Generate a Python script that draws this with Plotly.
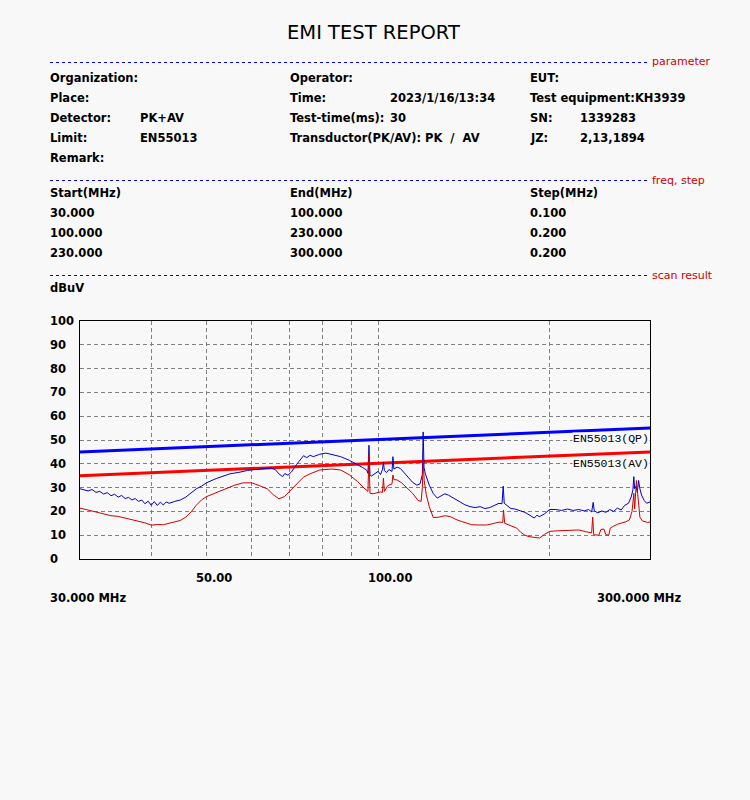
import math
import plotly.graph_objects as go

# ---------------- data ----------------
pk_freq = [30.0, 30.5, 31.0, 31.5, 32.0, 32.5, 33.0, 33.5, 34.0, 34.5, 35.0, 35.5, 36.0, 36.5,
           37.0, 37.5, 38.0, 38.5, 39.0, 39.5, 40.0, 40.5, 41.0, 41.5, 42.0, 42.5, 43.0, 44.0,
           45.0, 46.0, 47.0, 48.0, 49.0, 50.0, 52.0, 55.0, 57.0, 59.0, 61.0, 63.0, 65.0, 66.0,
           67.0, 68.0, 68.6, 69.5, 70.5, 72.0, 73.0, 74.0, 75.0, 76.0, 77.0, 79.0, 81.0, 83.0,
           86.0, 89.0, 92.0, 94.0, 95.5, 96.0, 96.4, 96.8, 97.3, 98.5, 100.0, 101.0, 101.8, 102.2,
           102.6, 103.5, 104.5, 105.8, 106.2, 106.6, 108.0, 109.5, 111.0, 113.0, 115.0, 117.0,
           118.5, 119.6, 120.0, 120.4, 121.0, 123.0, 125.0, 127.0, 129.0, 131.0, 133.0, 136.0,
           139.0, 142.0, 145.0, 148.0, 151.0, 154.0, 157.0, 160.0, 163.0, 165.0, 165.8, 166.5,
           168.0, 171.0, 174.0, 177.0, 181.0, 184.0, 186.0, 188.0, 190.0, 192.0, 196.0, 200.0,
           205.0, 210.0, 215.0, 220.0, 225.0, 230.0, 234.0, 237.0, 238.5, 239.5, 243.0, 247.0,
           251.0, 255.0, 259.0, 263.0, 267.0, 271.0, 275.0, 278.0, 280.0, 281.0, 282.0, 283.5,
           285.0, 286.5, 288.0, 290.0, 293.0, 296.0, 300.0]
pk_level = [29.5, 29.0, 28.6, 29.2, 28.0, 28.4, 27.3, 27.9, 26.6, 27.2, 26.0, 26.7, 25.4, 25.9,
            24.8, 25.4, 24.2, 24.8, 23.2, 24.3, 22.6, 24.1, 22.5, 23.9, 22.7, 24.0, 23.4, 24.2,
            24.8, 26.0, 27.6, 29.5, 30.6, 32.0, 33.8, 35.8, 36.4, 37.2, 37.6, 38.0, 38.2, 37.6,
            35.8, 34.6, 35.9, 35.2, 36.6, 39.8, 41.6, 43.4, 42.6, 43.6, 43.0, 44.0, 44.5, 43.8,
            43.0, 41.5, 39.8, 38.4, 37.4, 36.0, 47.8, 35.5, 34.8, 35.6, 36.8, 35.5, 37.6, 40.6,
            37.2, 36.3, 37.6, 36.8, 43.0, 37.8, 38.6, 38.0, 36.3, 34.5, 32.2, 31.0,
            31.6, 35.5, 53.4, 38.5, 36.0, 31.0, 27.5, 25.6, 26.4, 27.4, 26.8, 25.4,
            24.2, 22.8, 22.0, 21.6, 22.0, 21.2, 21.6, 22.4, 23.4, 23.2, 30.6, 23.4,
            22.6, 21.2, 21.0, 20.4, 19.6, 18.6, 18.0, 17.2, 18.4, 17.8, 19.0, 20.8,
            20.8, 20.4, 21.0, 20.4, 20.8, 20.2, 20.8, 19.8, 23.8, 20.2, 19.4, 20.2,
            19.6, 20.8, 20.0, 21.4, 20.6, 22.6, 23.4, 26.0, 29.0, 34.6, 29.5, 30.6,
            28.0, 33.0, 29.5, 26.8, 24.6, 23.4, 24.0]

av_freq = [30.0, 31.0, 32.0, 33.0, 34.0, 35.0, 36.0, 37.0, 38.0, 39.0, 40.0, 41.0, 42.0, 43.0,
           44.0, 45.0, 46.0, 47.0, 48.0, 49.0, 50.0, 52.0, 54.0, 56.0, 58.0, 60.0, 62.0, 64.0,
           65.5, 67.0, 68.5, 70.0, 72.0, 74.0, 76.0, 79.0, 83.0, 86.0, 89.0, 92.0, 94.5, 96.0,
           96.4, 96.8, 98.0, 101.0, 101.8, 102.2, 102.6, 104.0, 105.8, 106.2, 106.6, 108.0,
           110.0, 112.0, 115.0, 117.5, 119.0, 119.6, 120.0, 120.5, 121.5, 123.0, 125.0, 128.0,
           131.0, 134.0, 137.0, 140.0, 143.0, 146.0, 150.0, 155.0, 160.0, 163.0, 165.5, 166.0,
           166.8, 170.0, 175.0, 178.0, 181.0, 184.0, 188.0, 192.0, 196.0, 200.0, 205.0, 215.0,
           225.0, 232.0, 237.0, 238.0, 239.0, 244.0, 246.0, 249.0, 251.0, 254.0, 255.5, 258.0,
           263.0, 268.0, 272.0, 276.0, 279.0, 281.0, 282.0, 284.0, 286.5, 288.0, 291.0, 294.0,
           297.0, 300.0]
av_level = [21.4, 20.6, 19.9, 19.2, 18.2, 17.9, 17.2, 16.6, 15.9, 15.2, 14.2, 14.5, 14.4, 15.0,
            15.4, 16.2, 17.6, 19.8, 22.6, 24.8, 26.2, 27.8, 29.6, 31.0, 32.0, 32.0, 30.8, 29.4,
            27.0, 25.3, 26.2, 28.6, 31.4, 34.4, 35.8, 37.4, 37.8, 37.4, 35.4, 32.6, 29.8, 28.4,
            44.0, 27.6, 27.4, 28.2, 28.0, 34.0, 28.4, 30.8, 31.6, 35.3, 33.4, 33.2,
            32.0, 30.3, 27.6, 24.6, 24.2, 30.0, 41.6, 33.0, 27.0, 22.0, 17.4, 17.6,
            18.2, 17.8, 16.6, 15.8, 15.0, 14.4, 14.3, 14.3, 15.0, 15.5, 15.4, 20.6,
            15.0, 14.3, 13.0, 11.2, 10.0, 9.4, 9.0, 8.8, 10.4, 11.6, 11.8, 12.0,
            12.2, 11.4, 11.0, 17.6, 10.2, 10.0, 12.4, 12.6, 10.2, 10.0, 13.0, 13.6,
            14.6, 15.2, 15.6, 16.4, 20.0, 27.6, 21.0, 33.0, 24.0, 17.6, 16.0, 15.6,
            15.4, 15.5]

limit_freq = [30.0, 300.0]
qp_limit = [45.0, 55.0]
av_limit = [35.0, 45.0]

grid_freqs = [40, 50, 60, 70, 80, 90, 100, 200]
x_labels = {50: "50.00", 100: "100.00"}
y_ticks = [0, 10, 20, 30, 40, 50, 60, 70, 80, 90, 100]

# ---------------- layout helpers ----------------
W, H = 750, 800
L, R, T, B = 80, 650, 321, 559


def px(x):
    return (x - L) / (R - L)


def py(y):
    return (B - y) / (B - T)


BG = "#F8F8F8"
FONT = "DejaVu Sans"

fig = go.Figure()
fig.add_trace(go.Scatter(x=limit_freq, y=qp_limit, mode="lines",
                         line=dict(color="#0000FF", width=3), hoverinfo="skip"))
fig.add_trace(go.Scatter(x=limit_freq, y=av_limit, mode="lines",
                         line=dict(color="#FF0000", width=3), hoverinfo="skip"))
fig.add_trace(go.Scatter(x=pk_freq, y=pk_level, mode="lines",
                         line=dict(color="#0000C8", width=1)))
fig.add_trace(go.Scatter(x=av_freq, y=av_level, mode="lines",
                         line=dict(color="#D00000", width=1)))

annotations = []


def txt(x, y, s, size=11.5, bold=True, color="black", anchor="left", family=FONT, bg=None):
    shift = {"left": -2, "right": 2, "center": 0}[anchor]
    a = dict(
        x=px(x), y=py(y), xref="paper", yref="paper", text=("<b>%s</b>" % s) if bold else s,
        showarrow=False, xanchor=anchor, yanchor="middle", xshift=shift,
        font=dict(family=family, size=size, color=color))
    if bg:
        a["bgcolor"] = bg
        a["borderpad"] = 0
        a["height"] = 11
    annotations.append(a)


# title
txt(373, 33, "EMI TEST REPORT", size=19.5, bold=False, anchor="center")

# dashed separators with red labels
shapes = []
for yy, lab in [(62, "parameter"), (180, "freq, step"), (275, "scan result")]:
    shapes.append(dict(type="line", xref="paper", yref="paper", x0=px(50), x1=px(648),
                       y0=py(yy + 0.5), y1=py(yy + 0.5),
                       line=dict(color="#0000E0", width=1, dash="3px,3px")))
    txt(652, yy, lab, size=11, bold=False, color="#CC0000")

# parameter block
rows = [78, 98, 118, 138, 158]
txt(50, rows[0], "Organization:")
txt(50, rows[1], "Place:")
txt(50, rows[2], "Detector:")
txt(140, rows[2], "PK+AV")
txt(50, rows[3], "Limit:")
txt(140, rows[3], "EN55013")
txt(50, rows[4], "Remark:")
txt(290, rows[0], "Operator:")
txt(290, rows[1], "Time:")
txt(390, rows[1], "2023/1/16/13:34")
txt(290, rows[2], "Test-time(ms):")
txt(390, rows[2], "30")
txt(290, rows[3], "Transductor(PK/AV): PK  /  AV")
txt(530, rows[0], "EUT:")
txt(530, rows[1], "Test equipment:KH3939")
txt(530, rows[2], "SN:")
txt(580, rows[2], "1339283")
txt(530, rows[3], "JZ:")
txt(580, rows[3], "2,13,1894")

# freq table
table = [["Start(MHz)", "End(MHz)", "Step(MHz)"],
         ["30.000", "100.000", "0.100"],
         ["100.000", "230.000", "0.200"],
         ["230.000", "300.000", "0.200"]]
for i, row in enumerate(table):
    for j, cell in enumerate(row):
        txt([50, 290, 530][j], 193 + 20 * i, cell)

txt(50, 288, "dBuV")

# y tick labels (left aligned)
for v in y_ticks:
    annotations.append(dict(x=px(50), y=v, xref="paper", yref="y", text="<b>%d</b>" % v,
                            showarrow=False, xanchor="left", yanchor="middle", xshift=-2,
                            font=dict(family=FONT, size=11.5, color="black")))

# x labels
for f, s in x_labels.items():
    annotations.append(dict(x=math.log10(f), y=py(578), xref="x", yref="paper", text="<b>%s</b>" % s,
                            showarrow=False, xanchor="center", yanchor="middle",
                            xshift=8 if f == 50 else 12,
                            font=dict(family=FONT, size=11.5, color="black")))
txt(50, 598, "30.000 MHz")
txt(681, 598, "300.000 MHz", anchor="right")

# limit labels
for yy, s in [(438.5, "EN55013(QP)"), (463.5, "EN55013(AV)")]:
    txt(648, yy, s, size=11.5, bold=False, anchor="right", family="Liberation Mono", bg=BG)

fig.update_layout(
    width=W, height=H, autosize=False,
    margin=dict(l=L, r=W - R, t=T, b=H - B, pad=0),
    paper_bgcolor=BG, plot_bgcolor=BG,
    showlegend=False,
    annotations=annotations, shapes=shapes,
    xaxis=dict(type="log", range=[math.log10(30), math.log10(300)], tickvals=grid_freqs,
               showticklabels=False, ticks="", showgrid=True, gridcolor="#808080", gridwidth=1,
               griddash="4px,3px", showline=True, mirror=True, linecolor="black", linewidth=1,
               zeroline=False),
    yaxis=dict(range=[0, 100], tickvals=y_ticks, showticklabels=False, ticks="", showgrid=True,
               gridcolor="#808080", gridwidth=1, griddash="4px,3px", showline=True, mirror=True,
               linecolor="black", linewidth=1, zeroline=False),
)

fig.write_html("out.html", config={"displayModeBar": False},
               post_script="document.body.style.margin='0px';"
               "document.body.style.background='%s';" % BG)
